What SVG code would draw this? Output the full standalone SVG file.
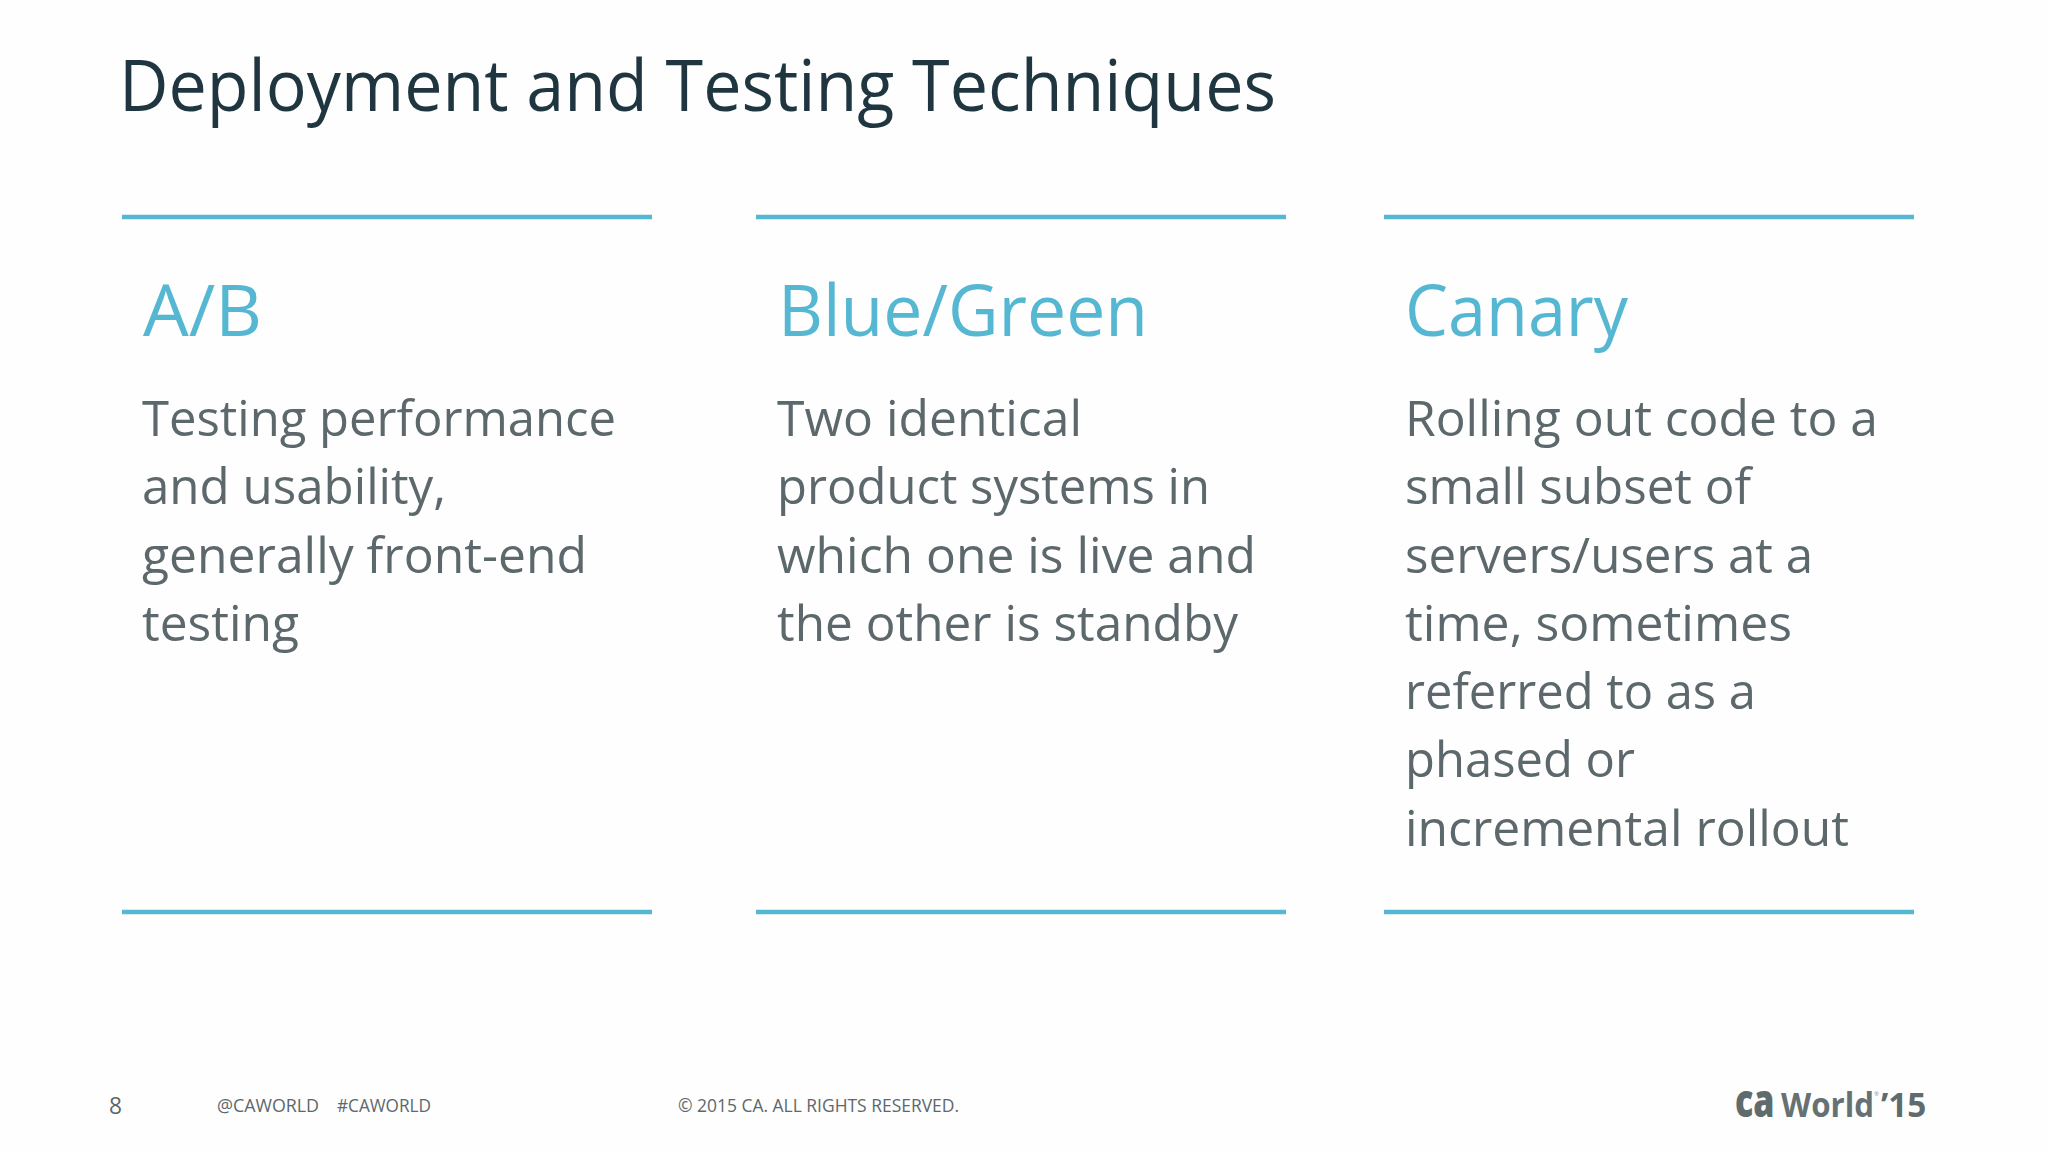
<svg xmlns="http://www.w3.org/2000/svg" width="2048" height="1152" viewBox="0 0 2048 1152">
<style>
text{font-family:"Open Sans","Noto Sans","Liberation Sans",sans-serif}
.h{font-size:72px;fill:#55b7d1}
.b{font-size:50px;fill:#5c686b}
.f{font-size:18px;fill:#5c686b}
.r{stroke:#55b7d1;stroke-width:4.5;fill:none}
</style>
<rect width="2048" height="1152" fill="#fefefe"/>
<text x="119" y="111" font-size="72" fill="#1f3640" textLength="1157" lengthAdjust="spacingAndGlyphs">Deployment and Testing Techniques</text>
<g id="ab">
<path class="r" d="M122 217H652M122 912H652"/>
<text class="h" x="143" y="336" textLength="119" lengthAdjust="spacingAndGlyphs">A/B</text>
<text class="b" x="142" y="436" textLength="474" lengthAdjust="spacingAndGlyphs">Testing performance</text>
<text class="b" x="142" y="504" textLength="304" lengthAdjust="spacingAndGlyphs">and usability,</text>
<text class="b" x="142" y="573" textLength="445" lengthAdjust="spacingAndGlyphs">generally front-end</text>
<text class="b" x="142" y="641" textLength="157" lengthAdjust="spacingAndGlyphs">testing</text>
</g>
<g id="bg">
<path class="r" d="M756 217H1286M756 912H1286"/>
<text class="h" x="778" y="336" textLength="370" lengthAdjust="spacingAndGlyphs">Blue/Green</text>
<text class="b" x="777" y="436" textLength="305" lengthAdjust="spacingAndGlyphs">Two identical</text>
<text class="b" x="777" y="504" textLength="433" lengthAdjust="spacingAndGlyphs">product systems in</text>
<text class="b" x="777" y="573" textLength="479" lengthAdjust="spacingAndGlyphs">which one is live and</text>
<text class="b" x="777" y="641" textLength="461" lengthAdjust="spacingAndGlyphs">the other is standby</text>
</g>
<g id="canary">
<path class="r" d="M1384 217H1914M1384 912H1914"/>
<text class="h" x="1405" y="336" textLength="223" lengthAdjust="spacingAndGlyphs">Canary</text>
<text class="b" x="1405" y="436" textLength="473" lengthAdjust="spacingAndGlyphs">Rolling out code to a</text>
<text class="b" x="1405" y="504" textLength="346" lengthAdjust="spacingAndGlyphs">small subset of</text>
<text class="b" x="1405" y="573" textLength="408" lengthAdjust="spacingAndGlyphs">servers/users at a</text>
<text class="b" x="1405" y="641" textLength="387" lengthAdjust="spacingAndGlyphs">time, sometimes</text>
<text class="b" x="1405" y="709" textLength="351" lengthAdjust="spacingAndGlyphs">referred to as a</text>
<text class="b" x="1405" y="777" textLength="230" lengthAdjust="spacingAndGlyphs">phased or</text>
<text class="b" x="1405" y="846" textLength="444" lengthAdjust="spacingAndGlyphs">incremental rollout</text>
</g>
<g id="footer">
<text class="f" x="109" y="1114" style="font-size:23px" textLength="13" lengthAdjust="spacingAndGlyphs">8</text>
<text class="f" x="217" y="1112" textLength="102" lengthAdjust="spacingAndGlyphs">@CAWORLD</text>
<text class="f" x="337" y="1112" textLength="94" lengthAdjust="spacingAndGlyphs">#CAWORLD</text>
<text class="f" x="678" y="1112" textLength="281" lengthAdjust="spacingAndGlyphs">© 2015 CA. ALL RIGHTS RESERVED.</text>
</g>
<g id="logo">
<text transform="translate(1735 1117) scale(1 1.35)" style="font-size:34px;font-weight:800" fill="#5f6b6c">ca</text>
<text transform="translate(1781 1117) scale(.92 1)" style="font-size:34px;font-weight:700" fill="#667173">World</text>
<text x="1874" y="1096" style="font-size:6px" fill="#8a9496">®</text>
<text transform="translate(1881 1117) scale(.98 1)" style="font-size:34px;font-weight:700" fill="#5f6b6c">’15</text>
</g>
</svg>
